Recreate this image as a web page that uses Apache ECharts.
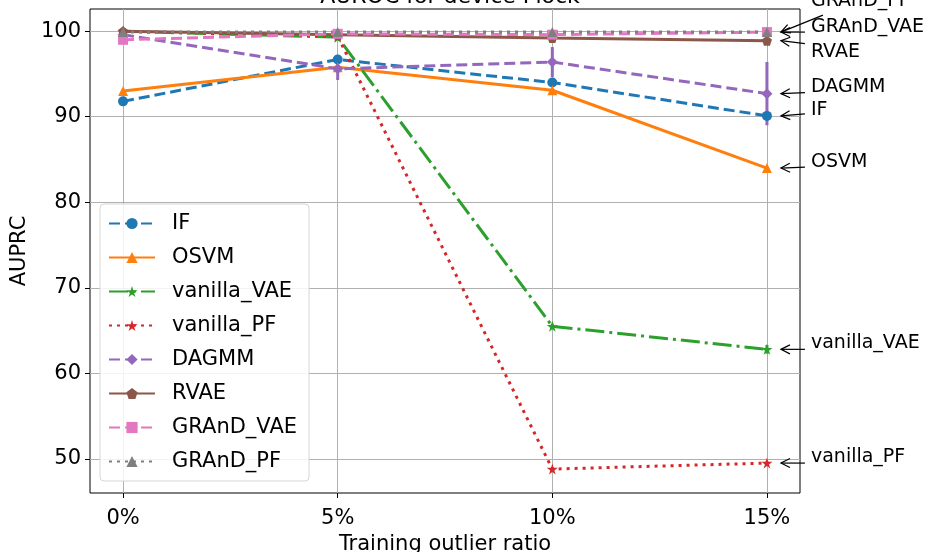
<!DOCTYPE html>
<html>
<head>
<meta charset="utf-8">
<script src="https://cdn.jsdelivr.net/npm/echarts@6/dist/echarts.min.js"></script>
<style>
  html, body { margin: 0; padding: 0; background: #fff; }
  #chart { width: 926px; height: 552px; }
</style>
</head>
<body>
<div id="chart"></div>
<script>
  // x positions and tick labels
  const ratios = [0, 1, 2, 3]
  const ratioLabels = ['0%', '5%', '10%', '15%']
  const yTicks = [50, 60, 70, 80, 90, 100]

  // AUPRC per method (mean) and error bar half-length
  const IF = [91.8, 96.7, 94.0, 90.1]
  const IF_err = [0.3, 0.3, 0.4, 0.5]
  const OSVM = [93.0, 95.8, 93.1, 84.0]
  const OSVM_err = [0.1, 0.1, 0.1, 0.1]
  const vanilla_VAE = [100.0, 99.3, 65.5, 62.8]
  const vanilla_VAE_err = [0.1, 0.2, 0.3, 0.5]
  const vanilla_PF = [100.0, 99.4, 48.8, 49.5]
  const vanilla_PF_err = [0.1, 0.1, 0.2, 0.2]
  const DAGMM = [99.6, 95.6, 96.4, 92.7]
  const DAGMM_err = [0.3, 1.3, 1.75, 3.7]
  const RVAE = [100.0, 99.6, 99.2, 98.9]
  const RVAE_err = [0.1, 0.1, 0.1, 0.1]
  const GRAnD_VAE = [99.0, 99.7, 99.6, 99.9]
  const GRAnD_VAE_err = [0.2, 0.1, 0.1, 0.1]
  const GRAnD_PF = [99.9, 99.9, 99.9, 99.9]
  const GRAnD_PF_err = [0.1, 0.1, 0.1, 0.1]

  const methods = ['IF', 'OSVM', 'vanilla_VAE', 'vanilla_PF', 'DAGMM', 'RVAE', 'GRAnD_VAE', 'GRAnD_PF']
  const values = {IF, OSVM, vanilla_VAE, vanilla_PF, DAGMM, RVAE, GRAnD_VAE, GRAnD_PF}
  const errors = {IF: IF_err, OSVM: OSVM_err, vanilla_VAE: vanilla_VAE_err, vanilla_PF: vanilla_PF_err,
    DAGMM: DAGMM_err, RVAE: RVAE_err, GRAnD_VAE: GRAnD_VAE_err, GRAnD_PF: GRAnD_PF_err}

  const star = 'path://M50,0 L61,35 L98,35 L68,57 L79,91 L50,70 L21,91 L32,57 L2,35 L39,35 Z'
  const pentagon = 'path://M50,0 L98,35 L79,91 L21,91 L2,35 Z'
  const styles = {
    IF: {color: '#1f77b4', type: [11, 5], symbol: 'circle', size: 10},
    OSVM: {color: '#ff7f0e', type: 'solid', symbol: 'triangle', size: 10},
    vanilla_VAE: {color: '#2ca02c', type: [19, 5, 3, 5], symbol: star, size: 11},
    vanilla_PF: {color: '#d62728', type: [3, 5], symbol: star, size: 11},
    DAGMM: {color: '#9467bd', type: [11, 5], symbol: 'diamond', size: 11},
    RVAE: {color: '#8c564b', type: 'solid', symbol: pentagon, size: 10},
    GRAnD_VAE: {color: '#e377c2', type: [11, 5], symbol: 'rect', size: 10},
    GRAnD_PF: {color: '#7f7f7f', type: [3, 5], symbol: 'triangle', size: 10}
  }

  // where each right-hand note sits relative to its 15% point (pixels)
  const notePos = {
    GRAnD_PF: {tx: 44, ty: -31, ax: 56, ay: -17},
    GRAnD_VAE: {tx: 44, ty: -5, ax: 38, ay: 0},
    RVAE: {tx: 44, ty: 11, ax: 38, ay: 3},
    DAGMM: {tx: 44, ty: -7, ax: 38, ay: -1},
    IF: {tx: 44, ty: -6, ax: 38, ay: -2},
    OSVM: {tx: 44, ty: -6, ax: 38, ay: -1},
    vanilla_VAE: {tx: 44, ty: -6, ax: 38, ay: 0},
    vanilla_PF: {tx: 44, ty: -6, ax: 38, ay: 0}
  }

  const font = 'DejaVu Sans'

  function errorSeries(name) {
    const color = styles[name].color
    return {
      name: name,
      type: 'custom',
      silent: true,
      data: ratios.map((r, i) => [r, values[name][i], errors[name][i]]),
      renderItem: function (params, api) {
        const x = api.value(0), y = api.value(1), e = api.value(2)
        const top = api.coord([x, y + e])
        const bot = api.coord([x, y - e])
        return {
          type: 'line',
          shape: {x1: top[0], y1: top[1], x2: bot[0], y2: bot[1]},
          style: {stroke: color, lineWidth: 3}
        }
      }
    }
  }

  function lineSeries(name) {
    const s = styles[name]
    return {
      name: name,
      type: 'line',
      data: ratios.map((r, i) => [r, values[name][i]]),
      symbol: s.symbol,
      symbolSize: s.size,
      showAllSymbol: true,
      itemStyle: {color: s.color},
      lineStyle: {color: s.color, width: 3, type: s.type},
      emphasis: {disabled: true}
    }
  }

  const noteSeries = {
    type: 'custom',
    silent: true,
    clip: false,
    data: methods.map((m, i) => [3, values[m][3], i]),
    renderItem: function (params, api) {
      const name = methods[api.value(2)]
      const p = api.coord([api.value(0), api.value(1)])
      const pos = notePos[name]
      const tip = [p[0] + 14, p[1]]
      const tail = [p[0] + pos.ax, p[1] + pos.ay]
      const dx = tip[0] - tail[0], dy = tip[1] - tail[1]
      const len = Math.sqrt(dx * dx + dy * dy)
      const ux = dx / len, uy = dy / len
      const hl = 9, hw = 4.5
      const h1 = [tip[0] - ux * hl - uy * hw, tip[1] - uy * hl + ux * hw]
      const h2 = [tip[0] - ux * hl + uy * hw, tip[1] - uy * hl - ux * hw]
      return {
        type: 'group',
        children: [
          {type: 'line', shape: {x1: tail[0], y1: tail[1], x2: tip[0], y2: tip[1]}, style: {stroke: '#000', lineWidth: 1.2}},
          {type: 'polyline', shape: {points: [h1, tip, h2]}, style: {stroke: '#000', lineWidth: 1.2, fill: null}},
          {type: 'text', x: p[0] + pos.tx, y: p[1] + pos.ty,
            style: {text: name, fill: '#000', font: '19px ' + font, textVerticalAlign: 'middle', textAlign: 'left'}}
        ]
      }
    }
  }

  const chart = echarts.init(document.getElementById('chart'))
  const option = {
    backgroundColor: '#fff',
    animation: false,
    textStyle: {fontFamily: font},
    title: {
      text: 'AUROC for device Flock',
      left: 445,
      textAlign: 'center',
      top: -19,
      textStyle: {fontSize: 22, fontWeight: 'normal', color: '#000', fontFamily: font}
    },
    grid: {left: 90, right: 126, top: 9, bottom: 59, outerBoundsMode: 'none', containLabel: false,
      show: true, borderColor: '#000', borderWidth: 1, backgroundColor: 'transparent'},
    legend: {
      data: methods,
      orient: 'vertical',
      left: 100,
      top: 204,
      itemWidth: 46,
      itemHeight: 14,
      itemGap: 13,
      padding: [9, 12, 9, 8],
      backgroundColor: 'rgba(255,255,255,0.85)',
      borderColor: '#d6d6d6',
      borderWidth: 1,
      borderRadius: 4,
      textStyle: {fontSize: 21, color: '#000', fontFamily: font, padding: [0, 0, 0, 12]}
    },
    xAxis: {
      type: 'value',
      min: -0.154,
      max: 3.154,
      name: 'Training outlier ratio',
      nameLocation: 'middle',
      nameGap: 30,
      nameTextStyle: {fontSize: 21, color: '#000', fontFamily: font},
      axisLine: {show: false, onZero: false},
      axisTick: {show: true, length: 5, customValues: ratios, lineStyle: {color: '#000'}},
      axisLabel: {customValues: ratios, fontSize: 21, color: '#000', margin: 15, formatter: v => ratioLabels[ratios.indexOf(v)]},
      splitLine: {show: true, lineStyle: {color: '#b0b0b0', width: 1}}
    },
    yAxis: {
      type: 'value',
      min: 46,
      max: 102.6,
      name: 'AUPRC',
      nameLocation: 'middle',
      nameGap: 51,
      nameTextStyle: {fontSize: 21, color: '#000', fontFamily: font},
      axisLine: {show: false, onZero: false},
      axisTick: {show: true, length: 5, customValues: yTicks, lineStyle: {color: '#000'}},
      axisLabel: {customValues: yTicks, fontSize: 21, color: '#000', margin: 9},
      splitLine: {show: true, lineStyle: {color: '#b0b0b0', width: 1}}
    },
    series: [].concat(
      methods.map(lineSeries),
      methods.map(errorSeries),
      [noteSeries]
    )
  }
  chart.setOption(option)
</script>
</body>
</html>
